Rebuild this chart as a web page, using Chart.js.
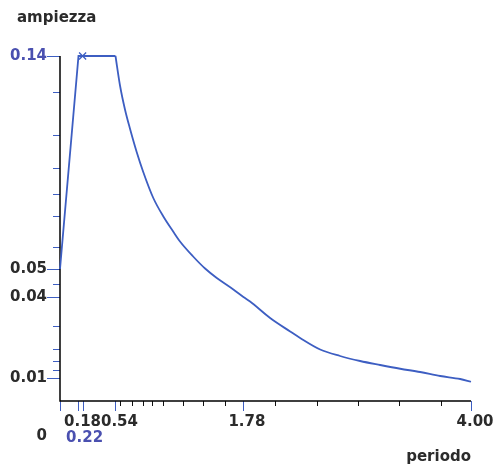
<!DOCTYPE html>
<html>
<head>
<meta charset="utf-8">
<script src="https://cdn.jsdelivr.net/npm/chart.js@4"></script>
<style>
  body { margin: 0; background: #fff; }
  #wrap { width: 496px; height: 466px; position: relative; }
</style>
</head>
<body>
<div id="wrap"><canvas id="chart"></canvas></div>
<script>
// dati
const periods = [0, 0.18, 0.22, 0.54, 0.584, 0.633, 0.682, 0.747, 0.811, 0.908, 1.006, 1.103, 1.168, 1.298, 1.412, 1.526, 1.687, 1.785, 1.85, 2.045, 2.24, 2.337, 2.532, 2.726, 2.921, 3.116, 3.311, 3.505, 3.70, 3.895, 4.0];
const amplitudes = [0.0528, 0.138, 0.138, 0.138, 0.1262, 0.1165, 0.1088, 0.0995, 0.0915, 0.0812, 0.0738, 0.0677, 0.0638, 0.0577, 0.0530, 0.0492, 0.0446, 0.0416, 0.0398, 0.0332, 0.0278, 0.0252, 0.0206, 0.0180, 0.0160, 0.0144, 0.0129, 0.0116, 0.0100, 0.0088, 0.0077];

// punto evidenziato (x)
const markPeriod = [0.22];
const markAmplitude = [0.138];

// tacche asse x
const xTickValues = [0, 0.18, 0.22, 0.54, 1.78, 4.0];
const xTickLabels = ['0', '0.18', '0.22', '0.54', '1.78', '4.00'];
const xMinorTicks = [0.584, 0.698, 0.805, 0.893, 1.0, 1.195, 1.39, 1.61, 2.09, 2.50, 2.90, 3.30, 3.71];

// tacche asse y
const yTickValues = [0.138, 0.0528, 0.0416, 0.0092];
const yTickLabels = ['0.14', '0.05', '0.04', '0.01'];
const yMinorTicks = [0.1235, 0.1063, 0.0931, 0.0827, 0.0739, 0.0616, 0.0468, 0.0300, 0.0208, 0.0160, 0.0124];

const BLUE = '#3d5ec2';
const LABEL_BLUE = '#4a50b0';
const DARK = '#2b2b2b';
const FONT = 'bold 15px "DejaVu Sans", Verdana, sans-serif';

// assi, tacche ed etichette disegnati a mano
const axesPlugin = {
    id: 'axesPlugin',
    beforeDatasetsDraw(chart) {
        const ctx = chart.ctx;
        const xs = chart.scales.x;
        const ys = chart.scales.y;
        const x0 = xs.getPixelForValue(0);
        const y0 = ys.getPixelForValue(0);
        ctx.save();
        ctx.lineWidth = 1;

        // tacche minori y
        ctx.strokeStyle = BLUE;
        yMinorTicks.forEach(v => {
            const y = Math.round(ys.getPixelForValue(v)) + 0.5;
            ctx.beginPath();
            ctx.moveTo(x0 - 7, y);
            ctx.lineTo(x0, y);
            ctx.stroke();
        });
        // tacche principali y
        yTickValues.forEach(v => {
            const y = Math.round(ys.getPixelForValue(v)) + 0.5;
            ctx.beginPath();
            ctx.moveTo(x0 - 13, y);
            ctx.lineTo(x0, y);
            ctx.stroke();
        });
        // tacche minori x
        ctx.strokeStyle = '#111';
        xMinorTicks.forEach(v => {
            const x = Math.round(xs.getPixelForValue(v)) + 0.5;
            ctx.beginPath();
            ctx.moveTo(x, y0);
            ctx.lineTo(x, y0 + 5);
            ctx.stroke();
        });
        // tacche principali x
        ctx.strokeStyle = BLUE;
        xTickValues.forEach(v => {
            const x = Math.round(xs.getPixelForValue(v)) + 0.5;
            ctx.beginPath();
            ctx.moveTo(x, y0);
            ctx.lineTo(x, y0 + 10);
            ctx.stroke();
        });

        // assi
        ctx.strokeStyle = '#000';
        ctx.lineWidth = 1.5;
        ctx.beginPath();
        ctx.moveTo(x0, ys.getPixelForValue(ys.max));
        ctx.lineTo(x0, y0);
        ctx.lineTo(xs.getPixelForValue(xs.max), y0);
        ctx.stroke();
        ctx.restore();
    },
    afterDraw(chart) {
        const ctx = chart.ctx;
        const xs = chart.scales.x;
        const ys = chart.scales.y;
        const x0 = xs.getPixelForValue(0);
        const y0 = ys.getPixelForValue(0);
        ctx.save();
        ctx.font = FONT;
        ctx.textBaseline = 'alphabetic';

        // etichette y
        ctx.textAlign = 'right';
        yTickValues.forEach((v, i) => {
            ctx.fillStyle = i === 0 ? LABEL_BLUE : DARK;
            ctx.fillText(yTickLabels[i], x0 - 13, ys.getPixelForValue(v) + 3.5);
        });

        // etichette x
        xTickValues.forEach((v, i) => {
            const x = xs.getPixelForValue(v);
            if (xTickLabels[i] === '0') {
                ctx.textAlign = 'right';
                ctx.fillStyle = DARK;
                ctx.fillText(xTickLabels[i], x0 - 13, y0 + 39);
            } else if (xTickLabels[i] === '0.22') {
                ctx.textAlign = 'center';
                ctx.fillStyle = LABEL_BLUE;
                ctx.fillText(xTickLabels[i], x + 2, y0 + 40.5);
            } else {
                ctx.textAlign = 'center';
                ctx.fillStyle = DARK;
                ctx.fillText(xTickLabels[i], x + 4, y0 + 25);
            }
        });

        // titoli assi
        ctx.fillStyle = DARK;
        ctx.textAlign = 'left';
        ctx.fillText('ampiezza', 17, 22);
        ctx.textAlign = 'right';
        ctx.fillText('periodo', xs.getPixelForValue(xs.max), 461);
        ctx.restore();
    }
};

const points = periods.map((t, i) => ({ x: t, y: amplitudes[i] }));
// tratto rettilineo fino alla fine del plateau, poi ramo discendente
const cornerIndex = periods.indexOf(0.54);
const rise = points.slice(0, cornerIndex + 1);
const decay = points.slice(cornerIndex);
const marks = markPeriod.map((t, i) => ({ x: t, y: markAmplitude[i] }));

const lineStyle = {
    borderColor: BLUE,
    borderWidth: 1.8,
    pointRadius: 0,
    fill: false,
    clip: false
};

new Chart(document.getElementById('chart'), {
    type: 'line',
    data: {
        datasets: [
            Object.assign({ data: rise, tension: 0 }, lineStyle),
            Object.assign({ data: decay, cubicInterpolationMode: 'monotone' }, lineStyle),
            {
                data: marks,
                showLine: false,
                pointStyle: 'crossRot',
                pointRadius: 5,
                borderColor: BLUE,
                borderWidth: 1.3,
                clip: false
            }
        ]
    },
    options: {
        responsive: true,
        maintainAspectRatio: false,
        animation: false,
        layout: {
            padding: { left: 60, top: 56, right: 25, bottom: 65 }
        },
        scales: {
            x: { type: 'linear', min: 0, max: 4.0, display: false },
            y: { type: 'linear', min: 0, max: 0.138, display: false }
        },
        plugins: {
            legend: { display: false },
            tooltip: { enabled: false }
        }
    },
    plugins: [axesPlugin]
});
</script>
</body>
</html>
